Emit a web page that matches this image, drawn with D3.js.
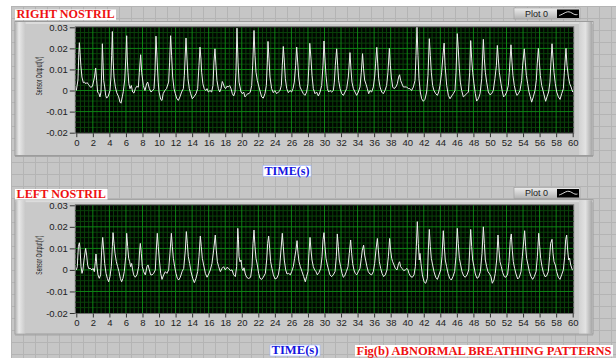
<!DOCTYPE html>
<html>
<head>
<meta charset="utf-8">
<script src="https://cdn.jsdelivr.net/npm/d3@7"></script>
<style>
  body { margin: 0; background: #fff; }
  svg { display: block; }
</style>
</head>
<body>
<svg id="panel" width="616" height="358"></svg>
<script>
// breathing traces: [time (s), sensor output (mV)]
const rightNostril = [[0,0],[0.2,5],[0.3,17],[0.37,22.7],[0.45,18],[0.55,12],[0.68,6.4],[0.85,3.7],[1.0,4],[1.15,3.2],[1.3,3.8],[1.45,3],[1.6,2.2],[1.74,1.5],[1.95,2],[2.2,6.4],[2.34,10.7],[2.46,4.8],[2.58,-0.7],[2.74,-1.5],[2.86,-3],[2.98,-0.7],[3.07,8.8],[3.15,22.2],[3.23,13.5],[3.31,4.8],[3.43,1.7],[3.55,-2.3],[3.67,-3.6],[3.87,-2.6],[4.07,0],[4.19,6.4],[4.27,16.7],[4.36,28],[4.44,15],[4.56,6.4],[4.72,1.7],[4.88,-1],[5.12,-3],[5.28,-5.5],[5.4,-6],[5.56,-3],[5.68,-0.5],[5.85,5],[5.98,15],[6.09,26],[6.17,14],[6.25,8.7],[6.35,3.2],[6.49,0.9],[6.65,2.4],[6.81,-0.7],[6.97,-1.2],[7.14,0.9],[7.3,2],[7.5,1.6],[7.62,8.7],[7.78,17],[7.9,8.7],[8.1,2.4],[8.3,0],[8.5,3.2],[8.63,4],[8.83,0.9],[9.03,-0.7],[9.23,0],[9.39,0.9],[9.51,8.7],[9.63,25.8],[9.78,13.5],[9.9,4],[10.0,-0.7],[10.2,-4.2],[10.36,-4.7],[10.5,-1.5],[10.7,0],[10.9,0.9],[11.16,4],[11.28,13.5],[11.4,26],[11.52,16.7],[11.65,6.4],[11.81,0.9],[11.97,-1.5],[12.13,-3.6],[12.33,-4.7],[12.53,-3],[12.73,-0.7],[12.94,0.9],[13.06,7.2],[13.26,24.9],[13.38,15],[13.5,5.6],[13.66,0.9],[13.82,-1.5],[14.02,-3.9],[14.22,-3],[14.47,-1.5],[14.67,0.9],[14.83,12],[14.95,20.6],[15.07,15],[15.15,8.7],[15.3,3.2],[15.46,0.9],[15.64,0],[15.8,0.9],[15.96,-0.7],[16.16,0],[16.36,-0.7],[16.52,2.4],[16.64,13.5],[16.76,19.8],[16.88,12],[17.0,4.8],[17.17,0.9],[17.33,-0.7],[17.49,0.9],[17.65,4.3],[17.77,3.2],[17.89,1.7],[18.05,0.9],[18.2,2],[18.37,1.7],[18.54,2.4],[18.7,0.9],[18.86,-1.5],[19.02,-2.6],[19.18,-0.7],[19.3,8.7],[19.42,29.6],[19.55,13.5],[19.67,4],[19.79,1.7],[19.91,-0.7],[20.07,-1.5],[20.23,-0.7],[20.39,-3],[20.55,-2.3],[20.71,-1.5],[20.87,-1.5],[21.03,-0.7],[21.2,2.4],[21.32,12],[21.48,28.5],[21.6,16.7],[21.72,8.7],[21.88,4.8],[22.08,1.7],[22.24,-0.7],[22.4,-3],[22.6,-3.6],[22.8,-1.5],[22.97,2.4],[23.09,13.5],[23.17,23.3],[23.29,15],[23.41,6.4],[23.61,0.9],[23.81,-1],[24.0,0],[24.22,-1.5],[24.42,-0.7],[24.62,0],[24.78,2.4],[24.9,12],[25.02,20.9],[25.15,13.5],[25.27,5.6],[25.43,0.9],[25.63,-1],[25.83,0],[26.03,-0.7],[26.19,0.9],[26.35,4],[26.51,12],[26.64,20.6],[26.76,13.5],[26.88,6.4],[27.04,1.7],[27.24,0],[27.44,-1.5],[27.64,-2.3],[27.84,-0.7],[28.0,3.2],[28.12,12],[28.22,22.4],[28.37,15],[28.49,7.2],[28.65,0.9],[28.85,-1.5],[29.05,-0.7],[29.26,-2.6],[29.46,-0.7],[29.66,2.4],[29.82,12],[29.94,23.5],[30.06,15],[30.18,7.2],[30.34,0.9],[30.5,-0.7],[30.67,0],[30.87,-0.7],[31.07,0],[31.19,4],[31.31,12],[31.47,19.8],[31.59,12],[31.71,4.8],[31.88,0.9],[32.08,-1.5],[32.28,-2.3],[32.48,-0.7],[32.68,0.9],[32.88,6.4],[33.08,18],[33.2,10],[33.32,4],[33.49,0.9],[33.69,-0.7],[33.89,-2.3],[34.09,-0.7],[34.29,1.7],[34.45,8.7],[34.6,17.5],[34.72,10.3],[34.85,5],[35.02,3],[35.18,0.9],[35.34,-1.5],[35.5,0],[35.7,-0.7],[35.9,1.7],[36.06,6.4],[36.18,13],[36.32,20.5],[36.43,13],[36.55,5.6],[36.71,1.7],[36.91,-0.7],[37.11,-1.5],[37.31,0],[37.51,2.4],[37.67,8.7],[37.84,20],[37.96,12],[38.08,6.4],[38.24,1.7],[38.4,0.9],[38.64,1.7],[38.8,3.2],[38.96,6.4],[39.08,7.5],[39.2,4.8],[39.36,3.2],[39.53,1.7],[39.73,1.7],[39.93,1.7],[40.13,0.9],[40.33,0.9],[40.53,0],[40.74,1.7],[40.94,4.8],[41.06,16.7],[41.18,30],[41.3,16.7],[41.42,5.6],[41.58,-0.7],[41.74,-3.9],[41.94,-5.1],[42.14,-4.2],[42.35,-0.7],[42.51,7.2],[42.67,24.6],[42.79,16.7],[42.91,8.7],[43.07,2.4],[43.23,0],[43.44,-1.5],[43.64,-2.3],[43.8,-0.7],[43.96,2.4],[44.16,8.7],[44.32,16.7],[44.46,22.5],[44.57,12],[44.77,2.4],[44.97,-2.3],[45.17,-3.9],[45.37,-2.6],[45.57,-1.5],[45.77,0],[45.9,8.7],[46.05,27],[46.17,19.8],[46.3,10.3],[46.42,4],[46.58,0],[46.78,-3],[46.98,-2.3],[47.19,-1.5],[47.39,-0.7],[47.55,8.7],[47.67,23.7],[47.79,15],[47.91,8.7],[48.07,3.2],[48.23,-1.5],[48.39,-5],[48.6,-3.9],[48.8,-1.5],[49.0,5.6],[49.2,24.3],[49.32,15],[49.44,8.7],[49.6,4],[49.8,-0.7],[50.0,-2],[50.2,-1.5],[50.4,0],[50.6,5.6],[50.78,12],[50.89,21.4],[51.01,15],[51.13,8.7],[51.33,3.2],[51.5,-0.7],[51.65,-3],[51.82,-2.3],[52.02,-0.7],[52.22,2.4],[52.34,8.7],[52.54,21.7],[52.66,13.5],[52.78,7.2],[52.94,2.4],[53.11,-0.7],[53.27,-2.3],[53.43,-1.5],[53.63,0],[53.83,4.8],[53.95,12],[54.15,19.8],[54.27,13.5],[54.4,7.2],[54.56,3.2],[54.72,-0.7],[54.88,-3],[55.04,-5.5],[55.24,-3],[55.44,0],[55.6,4.8],[55.72,13],[55.85,20],[55.97,13.5],[56.09,7.2],[56.25,2.4],[56.41,0],[56.57,-2.6],[56.73,-5.1],[56.89,-3],[57.09,-0.7],[57.25,4],[57.37,13.5],[57.5,22.2],[57.62,15],[57.74,8.7],[57.9,3.2],[58.07,-0.7],[58.27,-3],[58.47,-4.2],[58.67,-1.5],[58.87,0.9],[58.99,8.7],[59.19,20],[59.31,12],[59.48,6.4],[59.64,3.2],[59.8,1.7],[60,-0.7]];

const leftNostril = [[0,0],[0.12,1.5],[0.25,10.8],[0.37,12.6],[0.45,10],[0.57,1.5],[0.69,-1.6],[0.8,0],[0.93,4.6],[1.13,10],[1.25,6.9],[1.37,2.3],[1.49,0.7],[1.69,0.7],[1.9,0],[2.02,0.7],[2.18,-0.8],[2.3,3.8],[2.38,7.4],[2.5,1.5],[2.62,-2.3],[2.78,-3.9],[2.94,-2.3],[3.07,9.2],[3.19,15.1],[3.31,9.2],[3.43,3],[3.59,-1.6],[3.75,-3.9],[3.91,-5.5],[4.07,-3.1],[4.23,1.5],[4.36,10.8],[4.44,17.3],[4.56,12.3],[4.68,7.7],[4.84,3.8],[5.0,1.5],[5.16,-0.8],[5.32,-3.9],[5.48,-5.5],[5.64,-3.9],[5.8,-0.8],[5.97,6.1],[6.09,17],[6.21,10.8],[6.33,5.4],[6.45,3.8],[6.57,1.5],[6.69,3],[6.81,0],[6.93,-2.3],[7.13,-3.4],[7.33,-2.3],[7.54,1.5],[7.66,9.2],[7.74,12.3],[7.86,7.7],[7.98,1.5],[8.14,-0.8],[8.34,-2.3],[8.54,1.5],[8.67,2.3],[8.83,0],[8.99,-2.3],[9.15,-2.3],[9.35,-1.6],[9.55,0],[9.67,9.2],[9.79,17],[9.91,10.8],[10.04,4.6],[10.2,-1.6],[10.36,-4.4],[10.56,-2.3],[10.76,-0.8],[10.96,-1.6],[11.16,0],[11.32,7.7],[11.49,17],[11.61,10.8],[11.73,5.4],[11.89,1.5],[12.05,-1.6],[12.21,-3.9],[12.37,-4.7],[12.57,-3.4],[12.78,-0.8],[12.98,0.7],[13.18,9.2],[13.3,17.8],[13.42,12.3],[13.54,6.1],[13.7,3],[13.86,-0.8],[14.07,-3.9],[14.27,-5.9],[14.47,-3.9],[14.67,-0.8],[14.83,6.1],[14.99,15.7],[15.11,10.8],[15.23,5.4],[15.39,2.3],[15.6,-1.6],[15.8,-3.4],[16.0,-1.9],[16.2,0],[16.4,3],[16.6,9.2],[16.8,16.2],[16.92,9.2],[17.05,3.8],[17.21,1.5],[17.41,-0.8],[17.61,0.7],[17.81,1.5],[18.01,0],[18.21,1.2],[18.42,0.7],[18.62,-0.3],[18.82,0],[19.02,-2.3],[19.22,-3.1],[19.38,1.5],[19.46,12],[19.52,19.3],[19.6,14],[19.67,6.1],[19.79,3.8],[19.91,4.6],[20.03,0.7],[20.15,-0.3],[20.27,1],[20.43,-1.9],[20.59,-3.4],[20.83,-4],[21.07,-3.4],[21.24,1.5],[21.36,12.3],[21.48,18.5],[21.6,10.8],[21.72,5.4],[21.88,2.3],[22.04,-1.6],[22.2,-3.9],[22.4,-4.4],[22.6,-3.4],[22.85,-1.6],[23.01,4.6],[23.13,12.3],[23.25,15.7],[23.37,10],[23.49,3.8],[23.65,0.7],[23.82,-2.3],[24.02,-4.2],[24.22,-3.9],[24.42,-2.3],[24.58,1.5],[24.74,9.2],[24.9,17],[25.02,10.8],[25.14,4.6],[25.31,0],[25.47,-1.9],[25.67,-1.6],[25.87,-2.3],[26.03,-0.8],[26.23,1.5],[26.39,5.4],[26.55,9.2],[26.68,13.6],[26.8,7.7],[26.92,3.8],[27.08,1.5],[27.28,-0.8],[27.48,-3.1],[27.68,-5.5],[27.84,-3.1],[28.0,-0.8],[28.12,7.7],[28.25,15.1],[28.37,9.2],[28.49,4.6],[28.65,1.5],[28.81,0],[28.97,-0.8],[29.13,-2.3],[29.33,-1.2],[29.54,0.7],[29.7,6.1],[29.82,14],[29.94,17.3],[30.06,10.8],[30.18,5.4],[30.34,2.3],[30.5,0],[30.66,-2.3],[30.86,-3.1],[31.06,-2.3],[31.27,-0.8],[31.43,6.1],[31.55,16.7],[31.67,10.8],[31.79,4.6],[31.95,1.5],[32.12,-1.6],[32.28,-3.4],[32.44,-2.8],[32.64,-0.8],[32.84,1.5],[33.0,7.7],[33.16,13.9],[33.28,7.7],[33.4,3],[33.56,0],[33.72,-1.6],[33.89,-2.3],[34.09,-0.8],[34.29,0.7],[34.45,5.4],[34.57,9.2],[34.73,11.5],[34.85,6.9],[34.97,4.6],[35.13,1.5],[35.29,-0.8],[35.49,-1.9],[35.7,-2.3],[35.9,-0.8],[36.06,3],[36.22,9.2],[36.39,14.6],[36.51,9.2],[36.63,3.8],[36.79,0.7],[36.95,-1.6],[37.15,-3.1],[37.35,-2.3],[37.55,0],[37.72,6.1],[37.87,14.6],[37.99,9.2],[38.12,5.4],[38.24,3.8],[38.4,2.3],[38.56,0.7],[38.76,0],[38.96,3],[39.08,3.8],[39.2,1.5],[39.37,0.7],[39.57,-0.3],[39.77,0],[39.97,0.7],[40.09,0],[40.21,-1.6],[40.42,-3.1],[40.62,-3.4],[40.82,-2.3],[40.98,1.5],[41.1,10.8],[41.22,22.4],[41.34,12.3],[41.46,4.6],[41.54,7.7],[41.66,3],[41.83,-2.3],[42.03,-5.5],[42.23,-6.2],[42.43,-3.9],[42.55,9.2],[42.67,18.8],[42.79,10.8],[42.91,5.4],[43.07,2.3],[43.23,-0.8],[43.44,-3.4],[43.64,-4.4],[43.84,-2.3],[44.04,0],[44.2,6.1],[44.36,18.2],[44.48,10.8],[44.6,4.6],[44.76,1.5],[44.93,-1.6],[45.13,-3.9],[45.33,-4.7],[45.53,-3.1],[45.73,-0.8],[45.89,6.1],[46.05,19.3],[46.17,12.3],[46.3,5.4],[46.46,2.3],[46.62,-0.8],[46.82,-2.8],[47.02,-3.4],[47.23,-2.3],[47.43,0],[47.55,9.2],[47.67,18.8],[47.79,10.8],[47.91,4.6],[48.07,1.5],[48.23,-1.9],[48.43,-3.9],[48.63,-3.4],[48.84,-0.8],[49.04,7.7],[49.2,20],[49.32,12.3],[49.44,4.6],[49.6,1.5],[49.76,-0.8],[49.96,-1.9],[50.12,-3.1],[50.28,-6.2],[50.48,-4.7],[50.64,-1.6],[50.81,4.6],[50.97,16.2],[51.09,9.2],[51.21,3.8],[51.37,1.5],[51.53,-1.2],[51.73,-3.1],[51.93,-3.4],[52.14,-1.9],[52.3,3.8],[52.46,14],[52.58,16.7],[52.7,9.2],[52.82,3.8],[52.98,0.7],[53.15,-1.9],[53.35,-4.2],[53.55,-3.4],[53.75,-0.8],[53.91,6.1],[54.07,13],[54.19,18.2],[54.31,10.8],[54.43,5.4],[54.6,2.3],[54.76,-0.8],[54.96,-3.1],[55.16,-4.4],[55.36,-3.1],[55.57,-0.8],[55.73,6.1],[55.89,17],[56.01,10.8],[56.13,5.4],[56.29,1.5],[56.45,-1.2],[56.65,-3.1],[56.85,-2.8],[57.05,-0.8],[57.21,6.1],[57.33,12.3],[57.5,14.2],[57.62,7.7],[57.74,3.8],[57.9,2.3],[58.06,-0.8],[58.26,-3.4],[58.46,-4.4],[58.66,-2.3],[58.87,0],[59.03,6.1],[59.15,14],[59.27,16.2],[59.39,9.2],[59.51,4.6],[59.63,5.4],[59.76,2.3],[59.96,0],[60,0]];

// axis ticks
const xTickValues = [0,2,4,6,8,10,12,14,16,18,20,22,24,26,28,30,32,34,36,38,40,42,44,46,48,50,52,54,56,58,60];
const yTickValues = [0.03, 0.02, 0.01, 0, -0.01, -0.02];
const yTickLabels = ["0.03", "0.02", "0.01", "0", "-0.01", "-0.02"];

// texts
const graphTitles = ["RIGHT NOSTRIL", "LEFT NOSTRIL"];
const xAxisTitle = "TIME(s)";
const yAxisTitle = "Sensor Output(V)";
const legendLabel = "Plot 0";
const figureCaption = "Fig(b) ABNORMAL BREATHING PATTERNS";

const svg = d3.select("#panel");
const W = 616, H = 358;

// gradients for the bevelled LabVIEW frame
const defs = svg.append("defs");
function hGrad(id, stops) {
    const g = defs.append("linearGradient").attr("id", id).attr("x1", 0).attr("x2", 1).attr("y1", 0).attr("y2", 0);
    stops.forEach(s => g.append("stop").attr("offset", s[0]).attr("stop-color", s[1]));
}
function vGrad(id, stops) {
    const g = defs.append("linearGradient").attr("id", id).attr("x1", 0).attr("x2", 0).attr("y1", 0).attr("y2", 1);
    stops.forEach(s => g.append("stop").attr("offset", s[0]).attr("stop-color", s[1]));
}
hGrad("bevelLeft", [[0, "#b8b8b8"], [0.35, "#e8e8e8"], [1, "#c8c8c8"]]);
hGrad("bevelRight", [[0, "#d2d2d2"], [0.5, "#e2e2e2"], [1, "#a8a8a8"]]);
vGrad("legendGrad", [[0, "#ececec"], [1, "#b4b4b4"]]);

// front panel background with its grid
svg.append("rect").attr("width", W).attr("height", H).attr("fill", "#fff");
svg.append("rect").attr("x", 11).attr("y", 6).attr("width", W - 11).attr("height", H - 6).attr("fill", "#c6c6c6");
const bgGrid = svg.append("g").attr("stroke", "#b4b4b4").attr("stroke-width", 1);
d3.range(11.5, W, 12).forEach(x => bgGrid.append("line").attr("x1", x).attr("x2", x).attr("y1", 6).attr("y2", H));
d3.range(6.5, H, 12).forEach(y => bgGrid.append("line").attr("x1", 11).attr("x2", W).attr("y1", y).attr("y2", y));

// shared x scale for both graphs
const x = d3.scaleLinear().domain([0, 60]).range([76.3, 572.7]);

function labelBox(text, x0, y0, w, h, color, border) {
    svg.append("rect").attr("x", x0).attr("y", y0).attr("width", w).attr("height", h)
        .attr("fill", "#fff").attr("stroke", border || "none").attr("stroke-width", 0.6);
    svg.append("text")
        .attr("x", x0 + 1.5).attr("y", y0 + h - 2)
        .attr("font-family", "'Liberation Serif', 'Times New Roman', serif")
        .attr("font-weight", "bold").attr("font-size", "11.5px")
        .attr("fill", color)
        .attr("textLength", w - 3).attr("lengthAdjust", "spacingAndGlyphs")
        .text(text);
}

function drawGraph(cfg) {
    const y = d3.scaleLinear().domain([-0.02, 0.03]).range([cfg.plotBottom, cfg.plotTop]);

    // frame
    svg.append("rect").attr("x", 15).attr("y", cfg.panelTop)
        .attr("width", 578).attr("height", cfg.panelBottom - cfg.panelTop)
        .attr("fill", "#c9c9c9").attr("stroke", "#9c9c9c").attr("stroke-width", 1);
    svg.append("rect").attr("x", 15.5).attr("y", cfg.panelTop + 0.5).attr("width", 577).attr("height", 2)
        .attr("fill", "#dcdcdc");
    svg.append("rect").attr("x", 15.5).attr("y", cfg.panelTop + 0.5).attr("width", 10)
        .attr("height", cfg.panelBottom - cfg.panelTop - 1).attr("fill", "url(#bevelLeft)");
    svg.append("rect").attr("x", 579).attr("y", cfg.panelTop + 0.5).attr("width", 13)
        .attr("height", cfg.panelBottom - cfg.panelTop - 1).attr("fill", "url(#bevelRight)");
    svg.append("line").attr("x1", 15).attr("x2", 593).attr("y1", cfg.panelBottom + 1).attr("y2", cfg.panelBottom + 1)
        .attr("stroke", "#a4a4a4");

    // plot area
    const px0 = x(0) - 1, px1 = x(60) + 1;
    svg.append("rect").attr("x", px0).attr("y", cfg.plotTop - 0.5)
        .attr("width", px1 - px0).attr("height", cfg.plotBottom - cfg.plotTop + 1)
        .attr("fill", "#010601").attr("stroke", "#707070").attr("stroke-width", 1);

    const grid = svg.append("g");
    d3.range(0.5, 60, 0.5).filter(t => t % 2 !== 0).forEach(t => {
        grid.append("line").attr("x1", x(t)).attr("x2", x(t)).attr("y1", cfg.plotTop).attr("y2", cfg.plotBottom)
            .attr("stroke", "#0a420a").attr("stroke-width", 1);
    });
    d3.range(-0.0175, 0.03, 0.0025).filter(v => Math.abs(Math.round(v * 1e4) % 100) !== 0).forEach(v => {
        grid.append("line").attr("x1", px0).attr("x2", px1).attr("y1", y(v)).attr("y2", y(v))
            .attr("stroke", "#0a420a").attr("stroke-width", 1);
    });
    xTickValues.slice(1, -1).forEach(t => {
        grid.append("line").attr("x1", x(t)).attr("x2", x(t)).attr("y1", cfg.plotTop).attr("y2", cfg.plotBottom)
            .attr("stroke", "#0e8414").attr("stroke-width", 1);
    });
    yTickValues.slice(1, -1).forEach(v => {
        grid.append("line").attr("x1", px0).attr("x2", px1).attr("y1", y(v)).attr("y2", y(v))
            .attr("stroke", "#0e8414").attr("stroke-width", 1);
    });

    // trace
    const line = d3.line().x(d => x(d[0])).y(d => y(d[1] / 1000));
    svg.append("path").datum(cfg.data)
        .attr("d", line)
        .attr("fill", "none")
        .attr("stroke", "#eeeeee")
        .attr("stroke-width", 1)
        .attr("stroke-linejoin", "round");

    // axes
    const yAxis = svg.append("g").attr("transform", `translate(${px0 - 0.5},0)`)
        .call(d3.axisLeft(y).tickValues(yTickValues).tickFormat((d, i) => yTickLabels[i]).tickSize(5).tickPadding(2));
    const xAxis = svg.append("g").attr("transform", `translate(0,${cfg.plotBottom + 0.5})`)
        .call(d3.axisBottom(x).tickValues(xTickValues).tickFormat(d => d).tickSize(4).tickPadding(2));
    [xAxis, yAxis].forEach(a => {
        a.select(".domain").remove();
        a.selectAll(".tick line").attr("stroke", "#333");
        a.selectAll("text").attr("fill", "#222")
            .attr("font-family", "'Liberation Sans', Arial, sans-serif").attr("font-size", "9.5px");
    });

    // y title
    svg.append("text")
        .attr("transform", `translate(41.5,${(cfg.plotTop + cfg.plotBottom) / 2 - 4}) rotate(-90)`)
        .attr("text-anchor", "middle")
        .attr("font-family", "'Liberation Sans Narrow', 'Liberation Sans', Arial, sans-serif")
        .attr("font-size", "9px").attr("fill", "#222")
        .attr("textLength", 39).attr("lengthAdjust", "spacingAndGlyphs")
        .text(yAxisTitle);

    // legend "Plot 0"
    const lg = svg.append("g").attr("transform", `translate(514,${cfg.legendTop})`);
    lg.append("rect").attr("width", 66).attr("height", 11).attr("fill", "url(#legendGrad)")
        .attr("stroke", "#9a9a9a").attr("stroke-width", 0.6);
    lg.append("text").attr("x", 11).attr("y", 8.6)
        .attr("font-family", "'Liberation Sans', Arial, sans-serif").attr("font-size", "9px").attr("fill", "#222")
        .text(legendLabel);
    lg.append("rect").attr("x", 43).attr("y", 1.5).attr("width", 22).attr("height", 8.5).attr("fill", "#000");
    const iconPts = [[45, 7.5], [48, 6.5], [52, 4], [55, 3.5], [58, 5], [61, 7], [63.5, 6.5]];
    lg.append("path").attr("d", d3.line().curve(d3.curveBasis)(iconPts))
        .attr("fill", "none").attr("stroke", "#eee").attr("stroke-width", 0.9);

    // titles
    labelBox(cfg.title, 15, cfg.titleTop, cfg.titleWidth, 10.5, "#ee1111");
    labelBox(xAxisTitle, cfg.timeX, cfg.timeTop, cfg.timeWidth, 11, "#1515e0", "#9db4ff");
}

drawGraph({
    data: rightNostril, title: graphTitles[0], titleTop: 9.5, titleWidth: 101,
    panelTop: 21.5, panelBottom: 155.5, plotTop: 27.3, plotBottom: 132.7, legendTop: 8,
    timeX: 263, timeTop: 165.5, timeWidth: 48
});
drawGraph({
    data: leftNostril, title: graphTitles[1], titleTop: 189, titleWidth: 92.5,
    panelTop: 199.7, panelBottom: 334, plotTop: 205.3, plotBottom: 313, legendTop: 187.5,
    timeX: 270, timeTop: 345, timeWidth: 50
});

labelBox(figureCaption, 355, 345, 258, 11.5, "#ee1111");
</script>
</body>
</html>
